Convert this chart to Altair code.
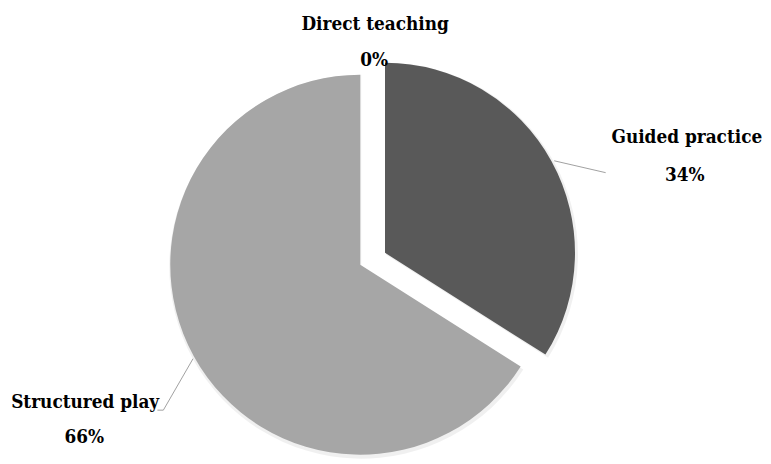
import altair as alt
import pandas as pd

categories = ["Direct teaching", "Guided practice", "Structured play"]
values = [0, 34, 66]
colors = ["#7f7f7f", "#595959", "#a6a6a6"]

df = pd.DataFrame({"category": categories, "value": values, "order": [0, 1, 2]})
df["pct"] = [f"{v}%" for v in values]

base = alt.Chart(df).transform_stack(
    stack="value", groupby=[], as_=["start", "end"], sort=[alt.SortField("order")]
)

theta_scale = alt.Scale(domain=[0, 100], range=[0, 6.283185307179586])
color_scale = alt.Scale(domain=categories, range=colors)

def slice_layer(cat, cx, cy):
    return base.transform_filter(alt.datum.category == cat).mark_arc(
        radius=192, stroke="white", strokeWidth=0
    ).encode(
        theta=alt.Theta("start:Q", scale=theta_scale),
        theta2="end:Q",
        color=alt.Color("category:N", scale=color_scale, legend=None),
        x=alt.value(cx),
        y=alt.value(cy),
    )

def shadow_layer(cat, cx, cy):
    return base.transform_filter(alt.datum.category == cat).mark_arc(
        radius=194, color="black", opacity=0.06
    ).encode(
        theta=alt.Theta("start:Q", scale=theta_scale),
        theta2="end:Q",
        x=alt.value(cx + 1),
        y=alt.value(cy + 2),
    )

font = "DejaVu Serif Condensed"

def label_layer(cat, field, cx, cy):
    return alt.Chart(df).transform_filter(alt.datum.category == cat).mark_text(
        font=font, fontSize=19, fontWeight="bold", color="black", align="center",
        baseline="alphabetic"
    ).encode(text=f"{field}:N", x=alt.value(cx), y=alt.value(cy))

def rule(x1, y1, x2, y2):
    return alt.Chart(df).transform_filter(alt.datum.order == 0).mark_rule(
        color="#a0a0a0", strokeWidth=1
    ).encode(x=alt.value(x1), y=alt.value(y1), x2=alt.value(x2), y2=alt.value(y2))

layers = [
    shadow_layer("Structured play", 356, 257),
    shadow_layer("Guided practice", 381, 245),
    slice_layer("Structured play", 356, 257),
    slice_layer("Guided practice", 381, 245),
    rule(552, 152, 604, 164),
    rule(187, 352, 157, 404),
    rule(157, 404, 151, 404),
    label_layer("Direct teaching", "category", 371, 20),
    label_layer("Direct teaching", "pct", 370, 56),
    label_layer("Guided practice", "category", 686, 134),
    label_layer("Guided practice", "pct", 684, 172),
    label_layer("Structured play", "category", 78, 402),
    label_layer("Structured play", "pct", 77, 437),
]

chart = alt.layer(*layers).properties(
    width=763, height=456, padding=0, autosize=alt.AutoSizeParams(type="none"),
    background="white"
).configure_view(stroke=None)

chart.save("out.html", embed_options={"renderer": "svg", "actions": False})
